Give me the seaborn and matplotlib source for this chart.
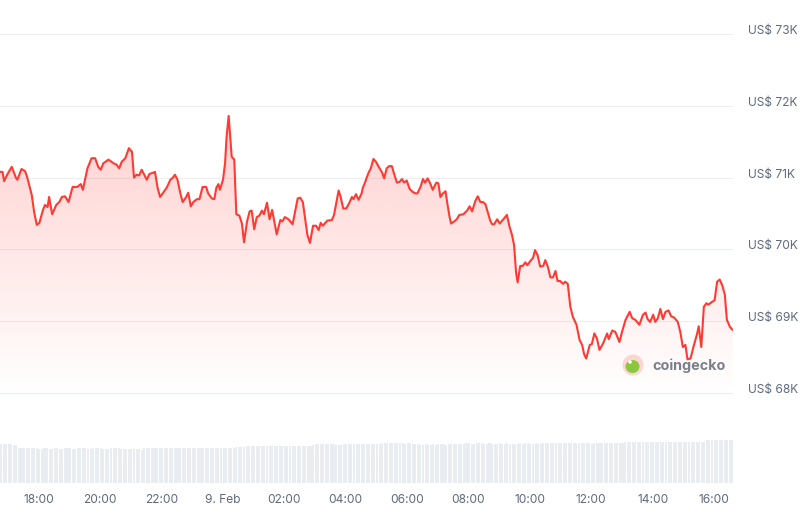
import numpy as np
import pandas as pd
import matplotlib
matplotlib.use("Agg")
import matplotlib.pyplot as plt
import matplotlib.transforms as mtransforms
from matplotlib.patches import Circle, Ellipse
import seaborn as sns

# window starts at 16:44 on 8 Feb; x values are minutes since then
start_hour, start_min = 16, 44

minutes = [
    0, 5, 8, 14, 23, 31, 34, 42, 49, 53,
    62, 67, 72, 77, 84, 88, 93, 96, 102, 110,
    116, 121, 127, 134, 142, 151, 158, 162, 171, 179,
    186, 192, 197, 202, 212, 222, 228, 233, 238, 245,
    252, 258, 262, 267, 272, 277, 284, 287, 292, 300,
    303, 308, 313, 319, 326, 333, 338, 342, 347, 352,
    357, 364, 368, 373, 378, 385, 390, 396, 403, 407,
    414, 419, 423, 427, 430, 436, 440, 443, 447, 450,
    453, 458, 462, 468, 473, 477, 483, 488, 492, 497,
    502, 507, 512, 516, 522, 527, 532, 537, 541, 548,
    552, 557, 564, 572, 577, 582, 587, 592, 597, 601,
    606, 612, 618, 623, 627, 631, 640, 649, 653, 662,
    666, 671, 677, 683, 688, 691, 696, 701, 707, 709,
    714, 720, 725, 730, 735, 742, 747, 751, 756, 761,
    766, 771, 776, 781, 786, 790, 795, 801, 807, 812,
    816, 822, 827, 831, 836, 841, 846, 853, 857, 861,
    866, 871, 875, 879, 882, 888, 893, 898, 906, 913,
    918, 923, 929, 934, 939, 944, 949, 953, 958, 962,
    966, 972, 977, 983, 991, 996, 1001, 1005, 1009, 1012,
    1017, 1022, 1027, 1031, 1037, 1042, 1046, 1051, 1056, 1062,
    1066, 1071, 1076, 1081, 1086, 1090, 1095, 1101, 1105, 1110,
    1115, 1120, 1127, 1133, 1138, 1142, 1146, 1153, 1157, 1162,
    1167, 1172, 1179, 1187, 1190, 1197, 1203, 1211, 1216, 1223,
    1231, 1236, 1242, 1250, 1257, 1262, 1266, 1271, 1277, 1281,
    1286, 1291, 1296, 1301, 1307, 1312, 1318, 1325, 1330, 1335,
    1340, 1344, 1350, 1356, 1363, 1366, 1371, 1376, 1381, 1385,
    1392, 1397, 1402, 1407, 1412, 1417, 1421, 1427, 1432,
]

price = [
    71080, 71080, 70950, 71040, 71150, 71000, 70970, 71120, 71090, 71010,
    70760, 70510, 70340, 70370, 70550, 70620, 70590, 70730, 70490, 70620,
    70660, 70730, 70740, 70660, 70870, 70870, 70910, 70830, 71130, 71270,
    71270, 71150, 71110, 71200, 71250, 71200, 71180, 71130, 71220, 71270,
    71410, 71360, 71000, 71040, 71030, 71110, 71010, 70970, 71050, 71070,
    71080, 70860, 70730, 70790, 70860, 70970, 71000, 71040, 70970, 70800,
    70660, 70730, 70790, 70600, 70660, 70700, 70700, 70870, 70870, 70780,
    70710, 70700, 70860, 70910, 70830, 70970, 71200, 71570, 71860, 71570,
    71290, 71250, 70490, 70470, 70360, 70100, 70390, 70530, 70540, 70280,
    70450, 70470, 70540, 70490, 70650, 70420, 70550, 70360, 70210, 70410,
    70390, 70450, 70420, 70350, 70530, 70710, 70720, 70660, 70410, 70200,
    70090, 70330, 70330, 70270, 70370, 70330, 70400, 70410, 70480, 70820,
    70730, 70570, 70570, 70650, 70730, 70700, 70770, 70690, 70780, 70850,
    70940, 71060, 71130, 71260, 71220, 71130, 71070, 70990, 71130, 71160,
    71160, 71040, 70930, 70940, 70980, 70930, 70960, 70840, 70800, 70780,
    70780, 70870, 70980, 70930, 70990, 70920, 70830, 70930, 70920, 70730,
    70780, 70810, 70620, 70450, 70360, 70390, 70420, 70480, 70490, 70540,
    70600, 70530, 70670, 70740, 70660, 70660, 70630, 70530, 70410, 70350,
    70350, 70420, 70360, 70410, 70480, 70320, 70200, 70060, 69670, 69540,
    69770, 69770, 69820, 69780, 69840, 69880, 69990, 69920, 69760, 69770,
    69850, 69760, 69610, 69610, 69700, 69560, 69560, 69520, 69550, 69520,
    69200, 69060, 68950, 68740, 68670, 68540, 68480, 68670, 68680, 68830,
    68760, 68600, 68690, 68830, 68750, 68870, 68850, 68710, 68850, 69020,
    69130, 69040, 69020, 68950, 69090, 69120, 69030, 68990, 69090, 68990,
    69040, 69170, 69030, 69130, 69150, 69070, 69050, 68990, 68850, 68640,
    68670, 68470, 68480, 68650, 68830, 68930, 68640, 69200, 69250, 69230,
    69270, 69290, 69550, 69580, 69500, 69370, 69020, 68920, 68880,
]

# rolling 24h volume, one bar per 5 minutes (US$ bn)
volume_bn = [
    39, 39, 39, 39, 38.8, 38.5, 38,
    35.5, 35, 35, 35.2, 35, 34.6, 35, 34.6, 34.2,
    34.5, 34.6, 34.6, 34.5, 34.5, 34.6, 34.6, 34.5, 34.5, 34.6,
    34.6, 34.6, 34.5, 34.5, 34.6, 34.6, 34.6, 34.6, 34.5, 34.5,
    34.6, 34.6, 34.6, 34.6, 34.5, 34.3, 34.5, 34.6, 34.6, 34.6,
    34.6, 34.5, 34.4, 34.0, 34.2, 34.4, 34.5, 34.2, 33.8, 33.5,
    34.6, 34.6, 34.6, 34.6, 34.6, 34.6, 34.6, 34.6, 34.6, 34.6,
    34.6, 34.6, 34.6, 34.6, 34.6, 34.6, 34.6, 34.6, 34.6, 34.6,
    34.6, 34.6, 34.6, 34.6, 34.6, 34.6, 34.6, 34.6, 34.6, 34.7,
    34.8, 34.8, 35.0,
    35.3, 35.5, 35.5, 35.9, 36.1, 36.0, 36.5, 36.6, 36.9, 37.0, 36.9, 37.2, 37.1,
    37.2, 37.2, 37.3, 37.3, 37.2, 37.3, 37.3, 37.3, 37.2, 37.3,
    36.8, 37.3, 37.3, 37.4, 37.4, 37.4, 37.3, 37.4, 37.5, 37.5,
    38.5, 38.6, 38.6, 38.6, 38.6, 38.6, 38.6, 38.6, 38.6, 38.5,
    38.5, 38.0, 38.6, 38.6, 38.6, 38.6, 38.6, 38.6, 38.6, 38.6,
    39.0, 39.2, 39.3, 39.3, 39.5, 39.5, 39.5, 39.6, 39.6, 39.7,
    39.7, 39.8, 39.6, 39.8, 39.8, 39.8, 39.4, 39.8, 39.8, 39.5, 39.2,
    38.6, 38.5, 38.4, 38.6, 38.4, 38.5, 38.6, 38.4, 38.6, 38.6, 38.6, 38.5, 38.8, 38.9,
    39.2, 39.5, 39.5, 39.4, 39.5, 39.6, 39.6, 39.5, 39.5, 39.7,
    39.7, 39.6, 39.5, 39.5, 39.6, 39.4, 39.5, 39.5, 39.6, 39.4,
    39.5, 39.6, 39.5, 39.5, 39.4, 39.5, 39.6, 39.3, 39.6, 39.6,
    39.5, 39.4, 39.6, 39.2, 39.5, 39.6, 39.6, 39.6, 39.6, 39.6,
    39.6, 39.6, 39.6, 39.6, 39.8, 39.9,
    40.1, 40.0, 39.8, 40.0, 40.2, 40.2, 39.9, 40.0, 39.0, 39.8,
    40.1, 40.0, 40.0, 40.1, 40.1, 40.2, 40.2, 40.3, 40.3, 40.4, 40.4,
    41.0, 41.0, 41.1, 41.1, 41.1, 41.1, 41.1, 41.1, 41.1, 41.1,
    41.1, 41.1, 41.1, 41.1, 41.1, 41.1, 41.1, 41.1, 41.1, 41.1,
    41.1, 41.1, 41.1, 41.1, 41.1, 41.1, 41.1, 41.0, 41.0, 40.8, 41.2, 41.5,
    42.8, 43.0, 43.1, 43.1, 43.0, 43.1, 43.1, 43.1, 43.2, 43.2, 43.2,
]

tick_hours = [18, 20, 22, 24, 26, 28, 30, 32, 34, 36, 38, 40]
tick_labels = ["18:00", "20:00", "22:00", "9. Feb", "02:00", "04:00",
               "06:00", "08:00", "10:00", "12:00", "14:00", "16:00"]
price_ticks = [68000, 69000, 70000, 71000, 72000, 73000]
price_labels = ["US$ 68K", "US$ 69K", "US$ 70K", "US$ 71K", "US$ 72K", "US$ 73K"]

sns.set_theme(style="white")
plt.rcParams['font.family'] = ['Inter', 'DejaVu Sans']

LINE = "#ff3a33"
TXT = "#5f6b7c"
GRID = "#eceef1"
x_end = 1433
y_lo, y_hi = 67972, 73474

df = pd.DataFrame({"minute": minutes, "price": price})

fig = plt.figure(figsize=(8.09, 5.14), dpi=100)
ax = fig.add_axes([0, 1 - 395 / 514, 733 / 809, 395 / 514])
ax_v = fig.add_axes([0, 1 - 483 / 514, 733 / 809, 45 / 514])

# gradient fill under the price line
poly = ax.fill_between(df["minute"], df["price"], y_lo, facecolor="none", edgecolor="none")
grad = np.zeros((256, 1, 4))
grad[:, 0, 0], grad[:, 0, 1], grad[:, 0, 2] = 1.0, 0.227, 0.2
grad[:, 0, 3] = np.linspace(0.0, 0.33, 256)
im = ax.imshow(grad, extent=[0, x_end, y_lo, y_hi], origin="lower",
               aspect="auto", interpolation="bilinear", zorder=1)
im.set_clip_path(poly.get_paths()[0], transform=ax.transData)

sns.lineplot(data=df, x="minute", y="price", ax=ax, color=LINE,
             linewidth=1.5, sort=False, zorder=3)

ax.set_xlim(0, x_end)
ax.set_ylim(y_lo, y_hi)
ax.set_xticks([])
ax.set_xlabel("")
ax.set_ylabel("")
ax.yaxis.tick_right()
ax.set_yticks(price_ticks)
ax.set_yticklabels(price_labels)
ax.tick_params(axis="y", length=0, pad=11, labelsize=8.6, labelcolor=TXT)
for lbl in ax.get_yticklabels():
    lbl.set_horizontalalignment("left")
    lbl.set_transform(lbl.get_transform() +
                      mtransforms.ScaledTranslation(0, 0.045, fig.dpi_scale_trans))
ax.yaxis.grid(True, color=GRID, linewidth=0.8)
ax.set_axisbelow(True)
for s in ax.spines.values():
    s.set_visible(False)
ax.patch.set_alpha(0)

# volume bars
bar_x = np.arange(len(volume_bn)) * 5
ax_v.bar(bar_x, volume_bn, width=4, align="edge", color="#e9edf1", linewidth=0)
ax_v.set_xlim(0, x_end)
ax_v.set_ylim(0, 45)
ax_v.set_yticks([])
tick_min = [(h - start_hour) * 60 - start_min for h in tick_hours]
ax_v.set_xticks(tick_min)
ax_v.set_xticklabels(tick_labels)
ax_v.tick_params(axis="x", length=0, pad=8, labelsize=8.6, labelcolor=TXT)
for s in ax_v.spines.values():
    s.set_visible(False)
ax_v.patch.set_alpha(0)

# coingecko watermark
fig.add_artist(Circle((6.33, 1.49), 0.105, transform=fig.dpi_scale_trans,
                      facecolor="#fbd3cd", edgecolor="none", alpha=0.9))
fig.add_artist(Ellipse((6.325, 1.475), 0.14, 0.13, transform=fig.dpi_scale_trans,
                       facecolor="#8cc63f", edgecolor="none"))
fig.add_artist(Circle((6.30, 1.52), 0.018, transform=fig.dpi_scale_trans,
                      facecolor="white", edgecolor="none"))
fig.text(652 / 809, 1 - 366 / 514, "coingecko", fontsize=10.3, fontweight="bold",
         color="#6b7380", va="center", ha="left", alpha=0.9)

fig.savefig("out.png", dpi=100)
